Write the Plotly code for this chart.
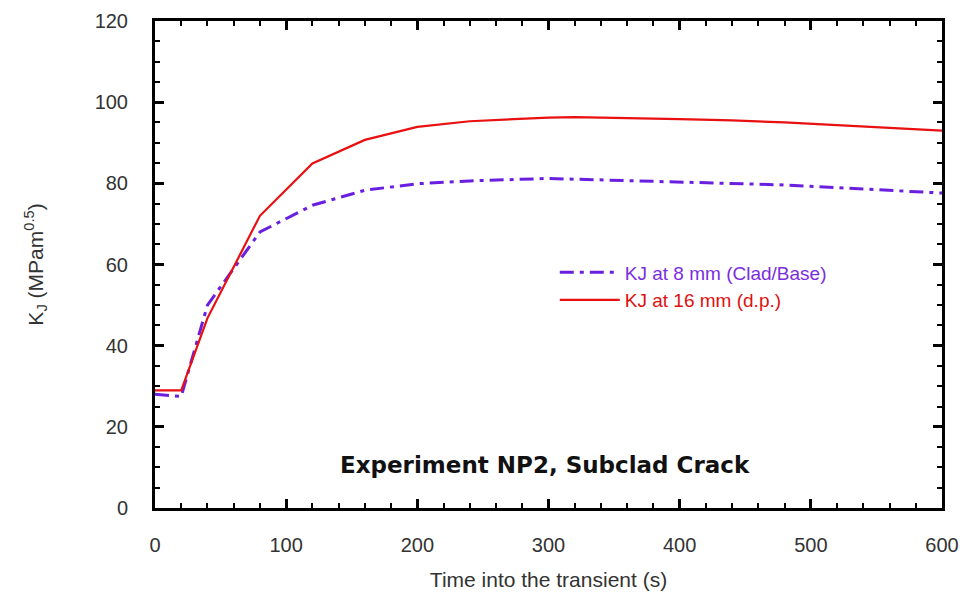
import plotly.graph_objects as go

t_purple = [0, 20, 40, 80, 120, 160, 200, 240, 300, 400, 480, 600]
kj_8mm = [28.0, 27.5, 50.0, 68.0, 74.6, 78.3, 79.9, 80.6, 81.2, 80.3, 79.6, 77.6]
t_red = [0, 20, 40, 80, 120, 160, 200, 240, 300, 320, 400, 440, 480, 600]
kj_16mm = [29.0, 29.0, 46.8, 72.0, 84.9, 90.7, 93.9, 95.3, 96.2, 96.3, 95.8, 95.5, 95.0, 93.0]

FONT = "Liberation Sans, Arial"

fig = go.Figure()
fig.add_trace(go.Scatter(
    x=t_purple, y=kj_8mm, mode="lines",
    name="<span style='color:#7a2ee0'>KJ at 8 mm (Clad/Base)</span>",
    line=dict(color="#6a1fe0", width=3, dash="14px,6px,4px,6px"),
))
fig.add_trace(go.Scatter(
    x=t_red, y=kj_16mm, mode="lines",
    name="<span style='color:#e01010'>KJ at 16 mm (d.p.)</span>",
    line=dict(color="#e81010", width=2.2),
))

axis_common = dict(
    showline=True, linecolor="black", linewidth=3, mirror="allticks",
    ticks="inside", ticklen=9, tickwidth=2.5, tickcolor="black",
    showgrid=False, zeroline=False, automargin=False,
    tickfont=dict(family=FONT, size=20, color="#333"),
)

fig.update_xaxes(
    range=[0, 600], dtick=100, **axis_common, ticklabelstandoff=17,
    minor=dict(dtick=20, ticks="inside", ticklen=5, tickwidth=2, tickcolor="black"),
    title=dict(text="Time into the transient (s)", font=dict(family=FONT, size=21, color="#333"), standoff=18),
)
fig.update_yaxes(
    range=[0, 120], dtick=20, **axis_common, ticklabelstandoff=20,
    minor=dict(dtick=5, ticks="inside", ticklen=5, tickwidth=2, tickcolor="black"),
    title=dict(text="K<sub>J</sub> (MPam<sup>0.5</sup>)", font=dict(family=FONT, size=21, color="#333"), standoff=46),
)

fig.add_annotation(
    x=0.496, y=0.088, xref="paper", yref="paper", xanchor="center", yanchor="middle",
    text="<b>Experiment NP2, Subclad Crack</b>", showarrow=False,
    font=dict(family="DejaVu Sans", size=23, color="#111"),
)

fig.update_layout(
    width=962, height=592,
    margin=dict(l=155, r=20, t=21, b=84),
    plot_bgcolor="white", paper_bgcolor="white",
    legend=dict(x=0.508, y=0.455, xanchor="left", yanchor="middle",
                bgcolor="rgba(0,0,0,0)", itemwidth=60,
                font=dict(family=FONT, size=19),
                tracegroupgap=14),
)

fig.write_html("out.html")
